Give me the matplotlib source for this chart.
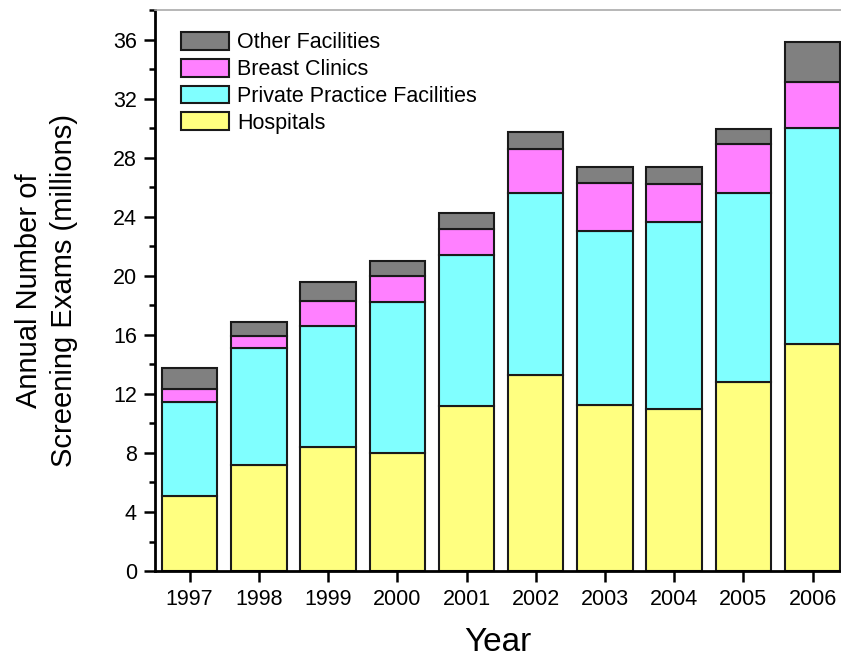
import numpy as np
from matplotlib import pyplot as plt
from matplotlib.ticker import MultipleLocator

plt.rcParams["font.family"] = ["Liberation Sans", "DejaVu Sans"]

years = ["1997", "1998", "1999", "2000", "2001", "2002", "2003", "2004", "2005", "2006"]
hospitals = [5.08, 7.19, 8.38, 8.02, 11.21, 13.27, 11.23, 10.96, 12.79, 15.39]
private_practice = [6.38, 7.91, 8.25, 10.19, 10.19, 12.36, 11.80, 12.65, 12.79, 14.60]
breast_clinics = [0.86, 0.85, 1.65, 1.79, 1.79, 2.98, 3.28, 2.63, 3.32, 3.16]
other_facilities = [1.46, 0.93, 1.27, 1.02, 1.03, 1.13, 1.08, 1.13, 1.07, 2.67]

series = [
    ("Hospitals", hospitals, "#ffff80"),
    ("Private Practice Facilities", private_practice, "#80ffff"),
    ("Breast Clinics", breast_clinics, "#ff80ff"),
    ("Other Facilities", other_facilities, "#808080"),
]

fig = plt.figure(figsize=(8.41, 6.6), dpi=100)
ax = fig.add_axes([0.1843, 0.1348, 0.8157, 0.85])

x = np.arange(len(years))
bottom = np.zeros(len(years))
handles = []
for name, vals, color in series:
    b = ax.bar(x, vals, 0.8, bottom=bottom, color=color, edgecolor="#1a1a1a",
               linewidth=1.5, label=name)
    handles.append(b)
    bottom += np.array(vals)

ax.set_xlim(-0.5, 9.41)
ax.set_ylim(0, 38)
ax.set_xticks(x)
ax.set_xticklabels(years)
ax.yaxis.set_major_locator(MultipleLocator(4))
ax.yaxis.set_minor_locator(MultipleLocator(2))
ax.tick_params(axis="both", which="major", direction="out", length=8, width=1.8,
               labelsize=15.5, pad=5)
ax.tick_params(axis="y", which="minor", direction="out", length=4, width=1.8)
ax.tick_params(axis="x", which="minor", bottom=False)

for side in ["left", "bottom"]:
    ax.spines[side].set_linewidth(2)
ax.spines["top"].set_color("#aaaaaa")
ax.spines["top"].set_linewidth(1.2)
ax.spines["right"].set_visible(False)

ax.set_xlabel("Year", fontsize=24, labelpad=12)
ax.set_ylabel("Annual Number of\nScreening Exams (millions)", fontsize=21, labelpad=25,
              linespacing=1.3)

ax.legend(handles[::-1], [s[0] for s in series[::-1]], loc="upper left",
          bbox_to_anchor=(0.026, 0.976), frameon=False, fontsize=15.5,
          handlelength=2.2, handleheight=0.9, labelspacing=0.25, handletextpad=0.4,
          borderaxespad=0)

fig.savefig("out.png", dpi=100)
